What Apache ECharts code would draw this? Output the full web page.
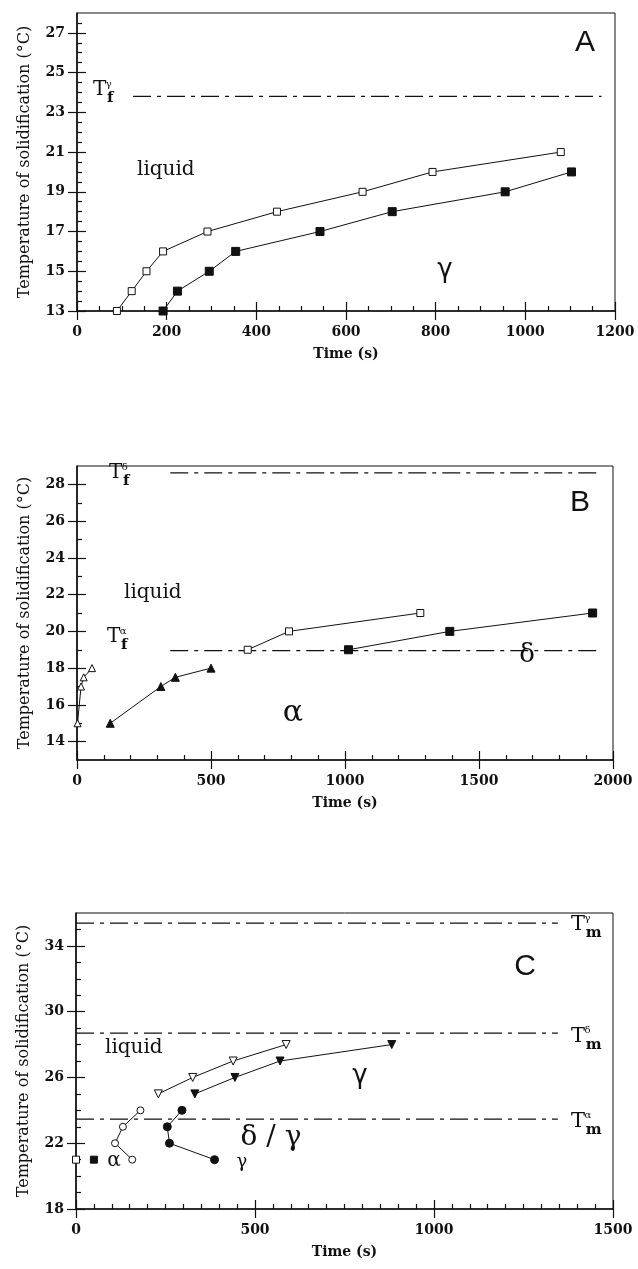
<!DOCTYPE html>
<html>
<head>
<meta charset="utf-8">
<script src="https://cdn.jsdelivr.net/npm/echarts@6/dist/echarts.min.js"></script>
<style>
  html, body { margin: 0; padding: 0; background: #fff; }
  #chart { width: 638px; height: 1269px; }
</style>
</head>
<body>
<div id="chart"></div>
<script>
// ---- panel A ----
const aOpenTime = [89, 122, 155, 192, 291, 446, 637, 793, 1079];
const aOpenTemp = [13, 14, 15, 16, 17, 18, 19, 20, 21];
const aFillTime = [192, 224, 295, 354, 542, 703, 955, 1103];
const aFillTemp = [13, 14, 15, 16, 17, 18, 19, 20];
const aTfGamma = 23.8;
const aRefSpan = [125, 1170];
const aXLabels = [0, 200, 400, 600, 800, 1000, 1200];
const aXMinor = [50, 100, 150, 250, 300, 350, 450, 500, 550, 650, 700, 750, 850, 900, 950, 1050, 1100, 1150];
const aYLabels = [13, 15, 17, 19, 21, 23, 25, 27];
const aYMinor = [13.5, 14, 14.5, 15.5, 16, 16.5, 17.5, 18, 18.5, 19.5, 20, 20.5, 21.5, 22, 22.5,
                 23.5, 24, 24.5, 25.5, 26, 26.5, 27.5];

// ---- panel B ----
const bOpenTriTime = [2, 15, 25, 56];
const bOpenTriTemp = [15, 17, 17.5, 18];
const bFillTriTime = [124, 313, 367, 500];
const bFillTriTemp = [15, 17, 17.5, 18];
const bOpenSqTime = [637, 791, 1281];
const bOpenSqTemp = [19, 20, 21];
const bFillSqTime = [1013, 1391, 1924];
const bFillSqTemp = [19, 20, 21];
const bTfDelta = 28.63;
const bTfAlpha = 18.95;
const bRefSpan = [348, 1946];
const bXLabels = [0, 500, 1000, 1500, 2000];
const bXMinor = [100, 200, 300, 400, 600, 700, 800, 900, 1100, 1200, 1300, 1400, 1600, 1700, 1800, 1900];
const bYLabels = [14, 16, 18, 20, 22, 24, 26, 28];
const bYMinor = [15, 17, 19, 21, 23, 25, 27];

// ---- panel C ----
const cOpenSqTime = [0];
const cOpenSqTemp = [21];
const cFillSqTime = [50];
const cFillSqTemp = [21];
const cOpenCircTime = [157, 109, 131, 180];
const cOpenCircTemp = [21, 22, 23, 24];
const cFillCircTime = [296, 255, 261, 387];
const cFillCircTemp = [24, 23, 22, 21];
const cOpenTriTime = [230, 326, 439, 587];
const cOpenTriTemp = [25, 26, 27, 28];
const cFillTriTime = [332, 444, 570, 882];
const cFillTriTemp = [25, 26, 27, 28];
const cTmGamma = 35.39;
const cTmDelta = 28.7;
const cTmAlpha = 23.47;
const cRefSpan = [0, 1346];
const cXLabels = [0, 500, 1000, 1500];
const cXMinor = [50, 100, 150, 200, 250, 300, 350, 400, 450, 550, 600, 650, 700, 750, 800, 850, 900, 950,
                 1050, 1100, 1150, 1200, 1250, 1300, 1350, 1400, 1450];
const cYLabels = [18, 22, 26, 30, 34];
const cYMinor = [19, 20, 21, 23, 24, 25, 27, 28, 29, 31, 32, 33, 35];

const serif = '"DejaVu Serif", serif';
const ink = '#111';

let chart = echarts.init(document.getElementById('chart'));

const grids = [], xAxes = [], yAxes = [], series = [];

// one panel = 3 stacked grids: labels+outer ticks, inner major ticks, inner minor ticks
function addPanel(rect, xr, yr, xLabels, xMinor, yLabels, yMinor) {
  const base = grids.length;
  const kinds = [
    { inside: false, len: 9, values: null },
    { inside: true, len: 9, values: null },
    { inside: true, len: 5, values: 'minor' }
  ];
  kinds.forEach((k, i) => {
    grids.push(Object.assign({ show: i === 0, borderColor: ink, borderWidth: 1 }, rect));
    xAxes.push({
      gridIndex: base + i, type: 'value', min: xr[0], max: xr[1],
      name: i === 0 ? 'Time (s)' : '', nameLocation: 'middle', nameGap: 36,
      nameTextStyle: { fontFamily: serif, fontWeight: 'bold', fontSize: 14, color: ink },
      axisLine: { show: i === 0, lineStyle: { color: ink, width: 1.6 } },
      axisTick: { show: true, inside: k.inside, length: k.len,
        customValues: k.values ? xMinor : xLabels, lineStyle: { color: ink, width: 1.2 } },
      axisLabel: { show: i === 0, customValues: xLabels, margin: 14, formatter: v => String(v),
        fontFamily: serif, fontWeight: 'bold', fontSize: 14, color: ink },
      splitLine: { show: false }
    });
    yAxes.push({
      gridIndex: base + i, type: 'value', min: yr[0], max: yr[1],
      name: i === 0 ? 'Temperature of solidification (°C)' : '', nameLocation: 'middle', nameGap: 44,
      nameRotate: 90,
      nameTextStyle: { fontFamily: serif, fontSize: 16, color: ink },
      axisLine: { show: i === 0, lineStyle: { color: ink, width: 1.6 } },
      axisTick: { show: true, inside: k.inside, length: k.len,
        customValues: k.values ? yMinor : yLabels, lineStyle: { color: ink, width: 1.2 } },
      axisLabel: { show: i === 0, customValues: yLabels, margin: 12, formatter: v => String(v),
        fontFamily: serif, fontWeight: 'bold', fontSize: 14, color: ink },
      splitLine: { show: false }
    });
  });
  return base;
}

function addLine(idx, times, temps, symbol, filled, size, rotate) {
  series.push({
    type: 'line', xAxisIndex: idx, yAxisIndex: idx, z: 5,
    data: times.map((t, i) => [t, temps[i]]),
    symbol: symbol, symbolSize: size, symbolRotate: rotate || 0, showAllSymbol: true,
    lineStyle: { color: ink, width: 1 },
    itemStyle: { color: filled ? ink : '#fff', borderColor: ink, borderWidth: 1 },
    animation: false, silent: true
  });
}

function addRef(idx, span, temp) {
  series.push({
    type: 'line', xAxisIndex: idx, yAxisIndex: idx, z: 3,
    data: [[span[0], temp], [span[1], temp]],
    symbol: 'none',
    lineStyle: { color: ink, width: 1.2, type: [18, 6, 4, 6] },
    animation: false, silent: true
  });
}

const pA = addPanel({ left: 77, top: 13, width: 538, height: 298 }, [0, 1200], [13, 28],
  aXLabels, aXMinor, aYLabels, aYMinor);
const pB = addPanel({ left: 77, top: 466, width: 536, height: 294 }, [0, 2000], [13, 29],
  bXLabels, bXMinor, bYLabels, bYMinor);
const pC = addPanel({ left: 76, top: 913, width: 537, height: 296 }, [0, 1500], [18, 36],
  cXLabels, cXMinor, cYLabels, cYMinor);

addRef(pA, aRefSpan, aTfGamma);
addLine(pA, aOpenTime, aOpenTemp, 'rect', false, 7);
addLine(pA, aFillTime, aFillTemp, 'rect', true, 8);

addRef(pB, bRefSpan, bTfDelta);
addRef(pB, bRefSpan, bTfAlpha);
addLine(pB, bOpenTriTime, bOpenTriTemp, 'triangle', false, 7);
addLine(pB, bFillTriTime, bFillTriTemp, 'triangle', true, 8);
addLine(pB, bOpenSqTime, bOpenSqTemp, 'rect', false, 7);
addLine(pB, bFillSqTime, bFillSqTemp, 'rect', true, 8);

addRef(pC, cRefSpan, cTmGamma);
addRef(pC, cRefSpan, cTmDelta);
addRef(pC, cRefSpan, cTmAlpha);
addLine(pC, cOpenSqTime, cOpenSqTemp, 'rect', false, 7);
addLine(pC, cFillSqTime, cFillSqTemp, 'rect', true, 7);
addLine(pC, cOpenCircTime, cOpenCircTemp, 'circle', false, 7);
addLine(pC, cFillCircTime, cFillCircTemp, 'circle', true, 8);
addLine(pC, cOpenTriTime, cOpenTriTemp, 'triangle', false, 8, 180);
addLine(pC, cFillTriTime, cFillTriTemp, 'triangle', true, 8, 180);

// text annotations
const graphics = [];
function txt(x, y, text, font, size, weight, align) {
  graphics.push({
    type: 'text', left: x, top: y, z: 10,
    style: { text: text, fontFamily: font, fontSize: size, fontWeight: weight || 'normal',
      fill: ink, textAlign: align || 'left', textVerticalAlign: 'top' }
  });
}
function symT(x, y, sup, sub, big) {
  const s = big || 20;
  txt(x, y, 'T', serif, s);
  txt(x + s * 0.64, y - 1, sup, serif, 10);
  txt(x + s * 0.7, y + s * 0.55, sub, serif, 15, 'bold');
}
function centered(x, y, text, font, size) {
  graphics.push({
    type: 'text', x: x, y: y, z: 10,
    style: { text: text, fontFamily: font, fontSize: size, fill: ink,
      textAlign: 'center', textVerticalAlign: 'middle' }
  });
}

const sans = '"Liberation Sans", Arial, sans-serif';
// panel A
symT(93, 80, 'γ', 'f');
txt(137, 160, 'liquid', serif, 20);
centered(445, 270, 'γ', '"DejaVu Sans", sans-serif', 26);
centered(585, 43, 'A', sans, 30);
// panel B
symT(109, 463, 'δ', 'f');
symT(107, 627, 'α', 'f');
txt(124, 583, 'liquid', serif, 20);
centered(293, 713, 'α', serif, 30);
centered(527, 655, 'δ', serif, 26);
centered(580, 503, 'B', sans, 30);
// panel C
symT(571, 914, 'γ', 'm', 21);
symT(571, 1026, 'δ', 'm', 21);
symT(571, 1111, 'α', 'm', 21);
txt(105, 1038, 'liquid', serif, 20);
centered(114, 1161, 'α', serif, 20);
centered(242, 1162, 'γ', serif, 18);
centered(271, 1138, 'δ / γ', serif, 28);
centered(360, 1076, 'γ', '"DejaVu Sans", sans-serif', 26);
centered(525, 967, 'C', sans, 30);

chart.setOption({
  animation: false,
  grid: grids,
  xAxis: xAxes,
  yAxis: yAxes,
  series: series,
  graphic: graphics
});
</script>
</body>
</html>
